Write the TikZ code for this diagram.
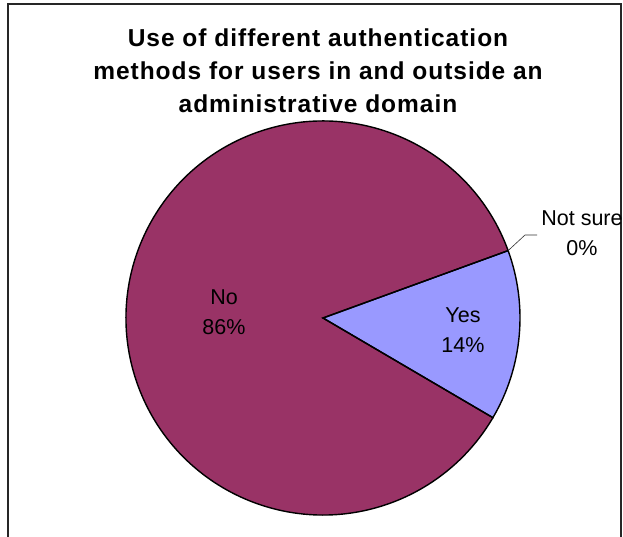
\documentclass[tikz,border=0pt]{standalone}
\usepackage{fontspec}
\setmainfont{Liberation Sans}
\usetikzlibrary{calc}
\definecolor{noColor}{HTML}{993366}
\definecolor{yesColor}{HTML}{9999FF}
\begin{document}
\begin{tikzpicture}[x=1pt,y=1pt,
  slice/.style={draw=black,line width=1.4pt,line join=miter},
  lbl/.style={align=center,font=\fontsize{21.5}{30}\selectfont,inner sep=0pt},
  ttl/.style={align=center,font=\fontsize{24.5}{33}\selectfont\bfseries\addfontfeatures{LetterSpace=4},inner sep=0pt},
  leader/.style={draw=black!80,line width=0.6pt}]
\useasboundingbox (0,0) rectangle (623,537);
\fill[white] (0,0) rectangle (623,537);
% frame
\draw[line width=1.3pt,black!85] (8,0) -- (8,533) -- (621,533) -- (621,0);
% title
\node[ttl] (title) at (318,466) {Use of different authentication\\methods for users in and outside an\\administrative domain};
% pie
\coordinate (c) at (323,219);
\def\R{197}
\fill[noColor] (c) -- ++(20:\R) arc (20:329.6:\R) -- cycle;
\fill[yesColor] (c) -- ++(-30.4:\R) arc (-30.4:20:\R) -- cycle;
\draw[slice] (c) -- ++(20:\R) arc (20:329.6:\R) -- cycle;
\draw[slice] (c) -- ++(-30.4:\R) arc (-30.4:20:\R) -- cycle;
% labels
\node[lbl] (no) at (224,225) {No\\86\%};
\node[lbl] (yes) at (463,207) {Yes\\14\%};
\node[lbl] (ns) at (582,304) {Not sure\\0\%};
\coordinate (nsedge) at ($(c)+(20:\R)$);
\coordinate (bend) at (525,302);
\coordinate (lend) at (537,302);
\draw[leader] (nsedge) -- (bend) -- (lend);
\end{tikzpicture}
\end{document}
